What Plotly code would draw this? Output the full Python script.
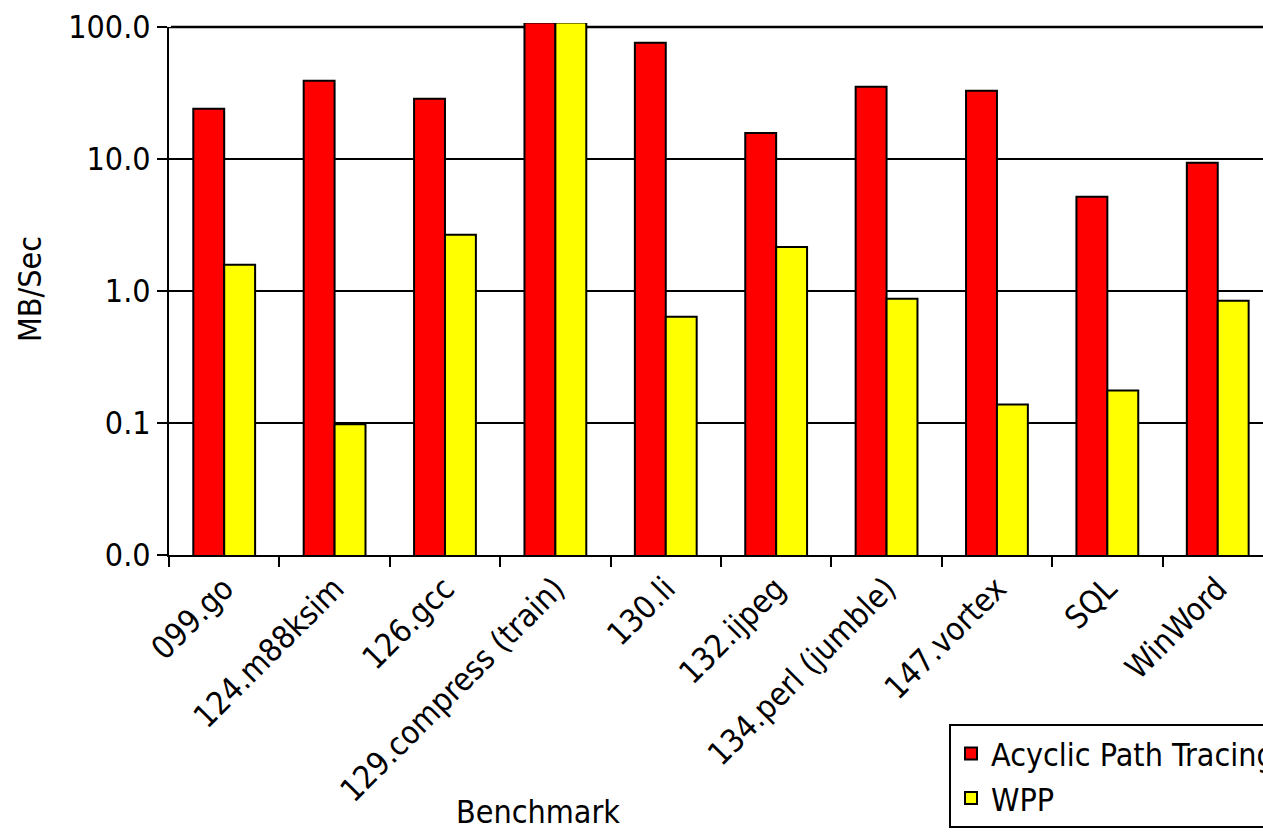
import plotly.graph_objects as go

categories = ["099.go", "124.m88ksim", "126.gcc", "129.compress (train)", "130.li",
              "132.ijpeg", "134.perl (jumble)", "147.vortex", "SQL", "WinWord"]
acyclic = [24.0, 39.2, 28.6, 108.0, 76.0, 15.7, 35.3, 32.9, 5.18, 9.38]
wpp = [1.58, 0.098, 2.67, 108.0, 0.638, 2.15, 0.875, 0.138, 0.176, 0.845]
series_names = ["Acyclic Path Tracing", "WPP"]
ytick_vals = [0.01, 0.1, 1, 10, 100]
ytick_text = ["0.0", "0.1", "1.0", "10.0", "100.0"]

FONT = "DejaVu Sans Condensed, DejaVu Sans, sans-serif"

fig = go.Figure()
fig.add_trace(go.Bar(x=categories, y=acyclic, name=series_names[0],
                     marker=dict(color="#FF0000", line=dict(color="black", width=2))))
fig.add_trace(go.Bar(x=categories, y=wpp, name=series_names[1],
                     marker=dict(color="#FFFF00", line=dict(color="black", width=2))))

# white cover over the part of the y-axis line above 100, grey top gridline at 100
fig.add_shape(type="line", xref="paper", yref="y", x0=0, x1=1, y0=100, y1=100,
              line=dict(color="#808080", width=3), layer="below")
fig.add_shape(type="line", xref="paper", yref="y", x0=0, x1=0, y0=100, y1=107.4,
              line=dict(color="white", width=4), layer="above")

fig.update_layout(
    width=1263, height=835,
    margin=dict(l=169, r=0, t=23, b=280, autoexpand=False),
    paper_bgcolor="white", plot_bgcolor="white",
    barmode="group", bargap=0.44, bargroupgap=0,
    font=dict(family=FONT, size=32, color="black"),
    showlegend=True,
    legend=dict(x=0.713, y=-0.318, xanchor="left", yanchor="top",
                bordercolor="black", borderwidth=2, bgcolor="white",
                font=dict(family=FONT, size=32, color="black"),
                tracegroupgap=0, traceorder="normal"),
    xaxis=dict(type="category", range=[-0.5, 9.41], tickangle=-45,
               showgrid=False, showline=True, linecolor="black", linewidth=2,
               ticks="outside", tickson="boundaries", ticklen=10, tickwidth=2,
               tickcolor="black", tickfont=dict(family=FONT, size=32)),
    yaxis=dict(type="log", range=[-2, 2.03], tickvals=ytick_vals, ticktext=ytick_text,
               showgrid=True, gridcolor="black", gridwidth=2,
               showline=True, linecolor="black", linewidth=2,
               ticks="outside", ticklen=10, tickwidth=2, tickcolor="black",
               tickfont=dict(family=FONT, size=32), zeroline=False),
    annotations=[
        dict(text="MB/Sec", xref="paper", yref="paper", x=-0.127, y=0.5,
             xanchor="center", yanchor="middle",
             textangle=-90, showarrow=False, font=dict(family=FONT, size=32)),
        dict(text="Benchmark", xref="paper", yref="paper", x=0.337, y=-0.483,
             xanchor="center", yanchor="middle",
             showarrow=False, font=dict(family=FONT, size=32)),
    ],
)

fig.write_html("out.html", config={"displayModeBar": False},
               post_script="document.body.style.margin='0';document.body.style.overflow='hidden';")
